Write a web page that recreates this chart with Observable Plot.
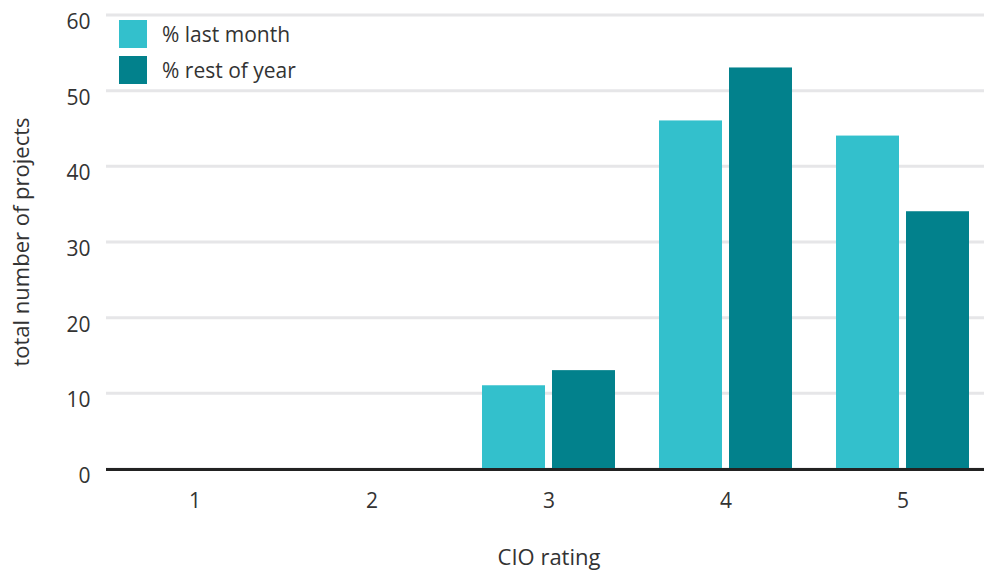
<!DOCTYPE html>
<html>
<head>
<meta charset="utf-8">
<script src="https://cdn.jsdelivr.net/npm/d3@7"></script>
<script src="https://cdn.jsdelivr.net/npm/@observablehq/plot@0.6"></script>
<style>
  html, body { margin: 0; padding: 0; background: #fff; overflow: hidden; }
  #wrap { position: relative; width: 984px; height: 572px; font-family: "Open Sans", sans-serif; }
  #legend { position: absolute; left: 119px; top: 20px; font-size: 21px; color: #333; }
  .item { display: flex; align-items: center; height: 28px; margin-bottom: 8px; }
  .sw { width: 28px; height: 28px; margin-right: 15px; }
</style>
</head>
<body>
<div id="wrap"><div id="legend"></div></div>
<script>
const ratings = ["1", "2", "3", "4", "5"];
const seriesNames = ["% last month", "% rest of year"];
const lastMonth = [0, 0, 11, 46, 44];
const restOfYear = [0, 0, 13, 53, 34];
const yTicks = [0, 10, 20, 30, 40, 50, 60];
const colors = ["#33c0cc", "#02818c"];

const rows = ratings.flatMap((r, i) => [
  {rating: r, series: seriesNames[0], value: lastMonth[i]},
  {rating: r, series: seriesNames[1], value: restOfYear[i]}
]);

const chart = Plot.plot({
  width: 984,
  height: 572,
  marginLeft: 104,
  marginRight: -8,
  marginTop: 14.5,
  marginBottom: 103.5,
  style: {fontFamily: "Open Sans, sans-serif", fontSize: "21px", color: "#333", background: "transparent", overflow: "hidden"},
  facet: {data: rows, x: "rating"},
  fx: {domain: ratings, padding: 0, axis: "bottom", tickSize: 0, tickPadding: 24,
       label: "CIO rating", labelAnchor: "center", labelOffset: 96, labelArrow: "none"},
  x: {domain: seriesNames, axis: null, paddingInner: 0.0986, paddingOuter: 0.2993},
  y: {domain: [0, 60], ticks: yTicks, tickSize: 0, tickPadding: 16,
      label: "total number of projects", labelAnchor: "center", labelOffset: 93, labelArrow: "none"},
  color: {domain: seriesNames, range: colors},
  marks: [
    Plot.ruleY(yTicks, {stroke: "#e6e6e8", strokeWidth: 3}),
    Plot.barY(rows, {x: "series", y: "value", fill: "series"}),
    Plot.ruleY([0], {stroke: "#222", strokeWidth: 3, dy: 0.5})
  ]
});

const wrap = document.getElementById("wrap");
wrap.insertBefore(chart, wrap.firstChild);

// shift y tick labels slightly downward as in the reference
d3.select(chart).selectAll('[aria-label="y-axis tick label"] text').attr("dy", "0.35em");
d3.select(chart).selectAll('[aria-label="y-axis label"], [aria-label="fx-axis label"]').style("font-size", "22px");

const legend = d3.select("#legend");
seriesNames.forEach((s, i) => {
  const it = legend.append("div").attr("class", "item");
  it.append("div").attr("class", "sw").style("background", colors[i]);
  it.append("span").text(s);
});
</script>
</body>
</html>
